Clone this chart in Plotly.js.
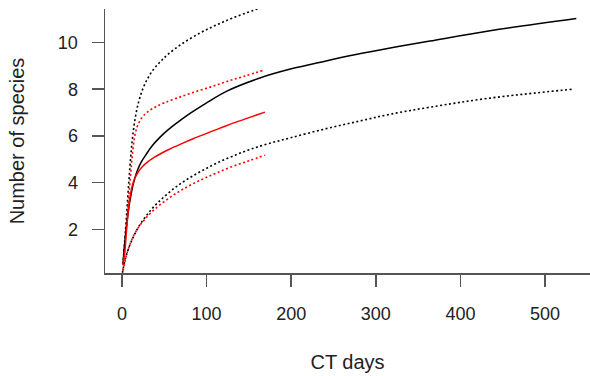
<!DOCTYPE html>
<html>
<head>
<meta charset="utf-8">
<script src="https://cdn.plot.ly/plotly-3.0.1.min.js"></script>
<style>
html,body{margin:0;padding:0;background:#fff;}
#chart{width:590px;height:376px;}
</style>
</head>
<body>
<div id="chart"></div>
<script>
// Black curve (all CT days) and its confidence band
var blackX   = [1.2, 3, 5, 7, 9, 11, 13, 16, 19, 23, 28, 35, 45, 54, 70, 84, 100, 124, 163, 199, 240, 275, 317, 364, 435, 537];
var blackY   = [0.55, 1.35, 2.05, 2.65, 3.15, 3.55, 3.9, 4.3, 4.6, 4.9, 5.18, 5.55, 5.95, 6.25, 6.7, 7.05, 7.42, 7.92, 8.48, 8.86, 9.2, 9.47, 9.76, 10.06, 10.5, 11.02];
var blackUpX = [1.2, 3, 5, 7, 9, 11, 13, 16, 20, 25, 31, 38, 46, 54, 70, 92, 110, 131, 163];
var blackUpY = [0.5, 1.4, 2.4, 3.5, 4.5, 5.4, 6.1, 6.85, 7.5, 8.05, 8.5, 8.88, 9.2, 9.48, 9.92, 10.4, 10.72, 11.05, 11.47];
var blackLoX = [0.5, 3, 6, 10, 15, 21, 28, 35, 43, 52, 62, 72, 84, 98, 112, 131, 151, 173, 199, 240, 280, 317, 364, 435, 533];
var blackLoY = [0.15, 0.6, 1.0, 1.4, 1.8, 2.2, 2.55, 2.87, 3.17, 3.47, 3.77, 4.03, 4.3, 4.58, 4.84, 5.14, 5.42, 5.67, 5.92, 6.3, 6.63, 6.93, 7.23, 7.62, 8.0];
// Red curve and its confidence band
var redX     = [1.5, 3.5, 5, 6.5, 8, 10, 12, 15, 19, 24, 30, 38, 46, 56, 70, 84, 110, 124, 145, 169];
var redY     = [0.55, 1.1, 1.8, 2.45, 3.0, 3.5, 3.85, 4.18, 4.45, 4.68, 4.88, 5.08, 5.25, 5.43, 5.66, 5.88, 6.25, 6.45, 6.72, 7.02];
var redUpX   = [1, 3, 5, 7, 9, 11, 13, 15, 18, 22, 27, 33, 40, 50, 65, 84, 105, 124, 145, 169];
var redUpY   = [0.25, 1.2, 2.1, 3.0, 3.85, 4.7, 5.45, 5.98, 6.4, 6.7, 6.93, 7.1, 7.25, 7.42, 7.62, 7.86, 8.1, 8.33, 8.56, 8.83];
var redLoX   = [0.5, 3, 6, 10, 15, 21, 28, 35, 43, 52, 62, 72, 84, 98, 112, 131, 151, 169];
var redLoY   = [0.05, 0.55, 1.0, 1.42, 1.82, 2.17, 2.48, 2.75, 3.0, 3.25, 3.5, 3.72, 3.96, 4.2, 4.42, 4.7, 4.95, 5.18];

var xTicks = [0, 100, 200, 300, 400, 500];
var yTicks = [2, 4, 6, 8, 10];

var dotDash = '2px,2.5px';
function tr(x, y, color, dash) {
  return {
    x: x, y: y, type: 'scatter', mode: 'lines',
    line: {color: color, width: dash ? 1.6 : 1.5, dash: dash || 'solid', shape: 'spline', smoothing: 1.0},
    hoverinfo: 'skip', showlegend: false
  };
}
var data = [
  tr(blackUpX, blackUpY, '#000000', dotDash),
  tr(blackLoX, blackLoY, '#000000', dotDash),
  tr(redUpX, redUpY, '#ff0000', dotDash),
  tr(redLoX, redLoY, '#ff0000', dotDash),
  tr(blackX, blackY, '#000000'),
  tr(redX, redY, '#ff0000')
];

var axisFont = {family: 'Liberation Sans, Arial, sans-serif', size: 18, color: '#222'};
var titleFont = {family: 'Liberation Sans, Arial, sans-serif', size: 20, color: '#222'};

var layout = {
  width: 590, height: 376,
  margin: {l: 105, r: 0, t: 9, b: 103, pad: 0},
  paper_bgcolor: '#ffffff', plot_bgcolor: '#ffffff',
  showlegend: false,
  xaxis: {
    range: [-20.1, 553.2], autorange: false,
    tickvals: xTicks, ticktext: xTicks.map(String),
    ticks: 'outside', ticklen: 12, tickwidth: 1.5, tickcolor: '#555',
    showline: true, linecolor: '#555', linewidth: 1.5, mirror: false,
    showgrid: false, zeroline: false,
    tickfont: axisFont, ticklabelstandoff: 12,
    title: {text: 'CT days', font: titleFont, standoff: 32},
    automargin: false
  },
  yaxis: {
    range: [0.14, 11.43], autorange: false,
    tickvals: yTicks, ticktext: yTicks.map(String),
    ticks: 'outside', ticklen: 12, tickwidth: 1.5, tickcolor: '#555',
    showline: true, linecolor: '#555', linewidth: 1.5, mirror: false,
    showgrid: false, zeroline: false,
    tickfont: axisFont, ticklabelstandoff: 10,
    title: {text: 'Number of species', font: titleFont, standoff: 28},
    automargin: false
  }
};

Plotly.newPlot('chart', data, layout, {staticPlot: true, displayModeBar: false});
</script>
</body>
</html>
